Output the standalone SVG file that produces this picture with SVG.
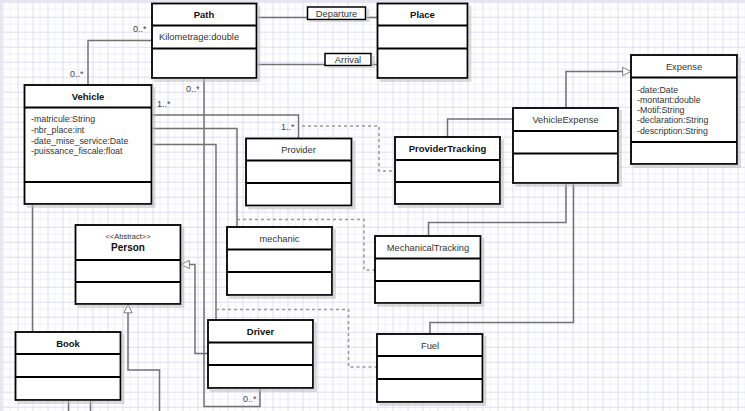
<svg xmlns="http://www.w3.org/2000/svg" width="745" height="411" viewBox="0 0 745 411">
<defs>
<pattern id="grid" x="2.5" y="1.7" width="15" height="15" patternUnits="userSpaceOnUse">
<path d="M7.5 0V15M0 7.5H15" stroke="#efeffb" stroke-width="1"/>
<path d="M0.5 0V15M0 0.5H15" stroke="#dedcf6" stroke-width="1"/>
</pattern>
<marker id="tri" viewBox="0 0 12 12" refX="11" refY="6" markerWidth="10" markerHeight="10" markerUnits="userSpaceOnUse" orient="auto">
<path d="M1 1L11 6L1 11Z" fill="#fff" stroke="#666" stroke-width="1"/>
</marker>
<filter id="sh" x="-10%" y="-10%" width="130%" height="130%">
<feOffset dx="3" dy="3" in="SourceAlpha" result="o"/>
<feColorMatrix in="o" type="matrix" values="0 0 0 0 0.5  0 0 0 0 0.5  0 0 0 0 0.5  0 0 0 0.55 0" result="c"/>
<feMerge><feMergeNode in="c"/><feMergeNode in="SourceGraphic"/></feMerge>
</filter>
</defs>
<style>
.box{fill:#fff;stroke:#000;stroke-width:1.8}
.div{stroke:#000;stroke-width:2}
.t{font-family:"Liberation Sans",Arial,sans-serif;font-size:9.3px;fill:#333}
.tb{font-family:"Liberation Sans",Arial,sans-serif;font-size:9.5px;font-weight:bold;fill:#111}
.c{text-anchor:middle}
.a{font-family:"Liberation Sans",Arial,sans-serif;font-size:8.8px;fill:#333}
.lab{font-family:"Liberation Sans",Arial,sans-serif;font-size:9px;fill:#444}
.ln{fill:none;stroke:#727272;stroke-width:1.5}
.dash{fill:none;stroke:#999;stroke-width:1.5;stroke-dasharray:3 3}
.lb{fill:#fff;stroke:#000;stroke-width:1.5}
</style>
<rect x="0" y="0" width="745" height="411" fill="#fff"/>
<rect x="0" y="0" width="745" height="411" fill="url(#grid)"/>
<rect x="0" y="0" width="745" height="2" fill="#e6e6ec"/>
<rect x="0" y="0" width="2" height="411" fill="#e6e6ec"/>

<g id="connectors">
<!-- Path - Place -->
<path class="ln" d="M256.5 17.5H307.5M365.5 17.5H377.5"/>
<path class="ln" d="M256.5 64.5H325M371 64.5H377.5"/>
<!-- Path - Vehicle -->
<path class="ln" d="M152 40.5H88V85"/>
<!-- Path - Driver -->
<path class="ln" d="M204 78V406.5H260V388"/>
<!-- Vehicle - Provider -->
<path class="ln" d="M151.5 115H298.5V138.5"/>
<!-- Vehicle - mechanic -->
<path class="ln" d="M151.5 128.5H237V227"/>
<!-- Vehicle - Driver -->
<path class="ln" d="M151.5 144.5H216V320"/>
<!-- Vehicle - Book -->
<path class="ln" d="M32.5 204V332"/>
<!-- association classes -->
<path class="dash" d="M302 126H379V171H395"/>
<path class="dash" d="M237 219.5H364V270H375"/>
<path class="dash" d="M216 309.5H348.5V367H377"/>
<!-- ProviderTracking - VehicleExpense -->
<path class="ln" d="M447.5 137V119H513"/>
<!-- VehicleExpense - Expense -->
<path class="ln" d="M566 108V71.5H631" marker-end="url(#tri)"/>
<!-- VehicleExpense - MechanicalTracking -->
<path class="ln" d="M566 183V222.5H428.5V236"/>
<!-- VehicleExpense - Fuel -->
<path class="ln" d="M573.5 183V322.5H430V334"/>
<!-- Driver - Person -->
<path class="ln" d="M208 353.5H195V264.5H181" marker-end="url(#tri)"/>
<!-- Person generalization from below -->
<path class="ln" d="M159.5 411V370H128V304.5" marker-end="url(#tri)"/>
<!-- Book lines down -->
<path class="ln" d="M68.5 400V411M90.5 400V411"/>
<!-- multiplicities -->
<text class="lab" x="133" y="32">0..*</text>
<text class="lab" x="70" y="77">0..*</text>
<text class="lab" x="186" y="92">0..*</text>
<text class="lab" x="157" y="107">1..*</text>
<text class="lab" x="281" y="130">1..*</text>
<text class="lab" x="243" y="402">0..*</text>
</g>

<g id="departure">
<rect class="lb" x="307.5" y="7" width="58" height="12.5" filter="url(#sh)"/>
<text class="t c" x="336.5" y="16.5">Departure</text>
</g>
<g id="arrival">
<rect class="lb" x="325" y="53.5" width="46" height="12" filter="url(#sh)"/>
<text class="t c" x="348" y="63">Arrival</text>
</g>

<g id="path">
<rect class="box" x="152" y="3.5" width="104.5" height="74.5" filter="url(#sh)"/>
<path class="div" d="M152 25.5H256.5M152 48.5H256.5"/>
<text class="tb c" x="204" y="18">Path</text>
<text class="t" x="159" y="40">Kilometrage:double</text>
</g>

<g id="place">
<rect class="box" x="377.5" y="3.5" width="90" height="74.5" filter="url(#sh)"/>
<path class="div" d="M377.5 25.5H467.5M377.5 48.5H467.5"/>
<text class="tb c" x="422.5" y="18">Place</text>
</g>

<g id="vehicle">
<rect class="box" x="24.5" y="85" width="127" height="119" filter="url(#sh)"/>
<path class="div" d="M24.5 107.5H151.5M24.5 182H151.5"/>
<text class="tb c" x="88" y="99.5">Vehicle</text>
<text class="a" x="31" y="122">-matricule:String</text>
<text class="a" x="31" y="132.8">-nbr_place:int</text>
<text class="a" x="31" y="143.6">-date_mise_service:Date</text>
<text class="a" x="31" y="154.4">-puissance_fiscale:float</text>
</g>

<g id="provider">
<rect class="box" x="246" y="138.5" width="105.5" height="67" filter="url(#sh)"/>
<path class="div" d="M246 160.5H351.5M246 183H351.5"/>
<text class="t c" x="298.5" y="153">Provider</text>
</g>

<g id="providertracking">
<rect class="box" x="395" y="137" width="105" height="67" filter="url(#sh)"/>
<path class="div" d="M395 160H500M395 182H500"/>
<text class="tb c" x="447.5" y="152">ProviderTracking</text>
</g>

<g id="vehicleexpense">
<rect class="box" x="513" y="108" width="105" height="75" filter="url(#sh)"/>
<path class="div" d="M513 131H618M513 153.5H618"/>
<text class="t c" x="565.5" y="122.5">VehicleExpense</text>
</g>

<g id="expense">
<rect class="box" x="631" y="55" width="106" height="109" filter="url(#sh)"/>
<path class="div" d="M631 77.5H737M631 142H737"/>
<text class="t c" x="684" y="69.5">Expense</text>
<text class="a" x="637" y="92.5">-date:Date</text>
<text class="a" x="637" y="102.8">-montant:double</text>
<text class="a" x="637" y="113.1">-Motif:String</text>
<text class="a" x="637" y="123.4">-declaration:String</text>
<text class="a" x="637" y="133.7">-description:String</text>
</g>

<g id="mechanic">
<rect class="box" x="227" y="227" width="105" height="68" filter="url(#sh)"/>
<path class="div" d="M227 249.5H332M227 272H332"/>
<text class="t c" x="279.5" y="241.5">mechanic</text>
</g>

<g id="mechanicaltracking">
<rect class="box" x="375" y="236" width="105.5" height="67" filter="url(#sh)"/>
<path class="div" d="M375 258.5H480.5M375 281H480.5"/>
<text class="t c" x="428" y="250.5">MechanicalTracking</text>
</g>

<g id="fuel">
<rect class="box" x="377" y="334" width="105.5" height="68" filter="url(#sh)"/>
<path class="div" d="M377 356H482.5M377 379H482.5"/>
<text class="t c" x="430" y="348.5">Fuel</text>
</g>

<g id="person">
<rect class="box" x="75.5" y="225" width="105" height="79" filter="url(#sh)"/>
<path class="div" d="M75.5 260H180.5M75.5 282H180.5"/>
<text class="c" x="128" y="238.5" font-family="Liberation Sans, Arial, sans-serif" font-size="7.5" fill="#333">&lt;&lt;Abstract&gt;&gt;</text>
<text class="c" x="128" y="251" font-family="Liberation Sans, Arial, sans-serif" font-size="10" font-weight="bold" fill="#111">Person</text>
</g>

<g id="driver">
<rect class="box" x="208" y="320" width="105" height="68" filter="url(#sh)"/>
<path class="div" d="M208 342.5H313M208 365H313"/>
<text class="tb c" x="260.5" y="334.5">Driver</text>
</g>

<g id="book">
<rect class="box" x="15.5" y="332" width="105" height="68" filter="url(#sh)"/>
<path class="div" d="M15.5 354H120.5M15.5 377H120.5"/>
<text class="tb c" x="68" y="346.5">Book</text>
</g>
</svg>
